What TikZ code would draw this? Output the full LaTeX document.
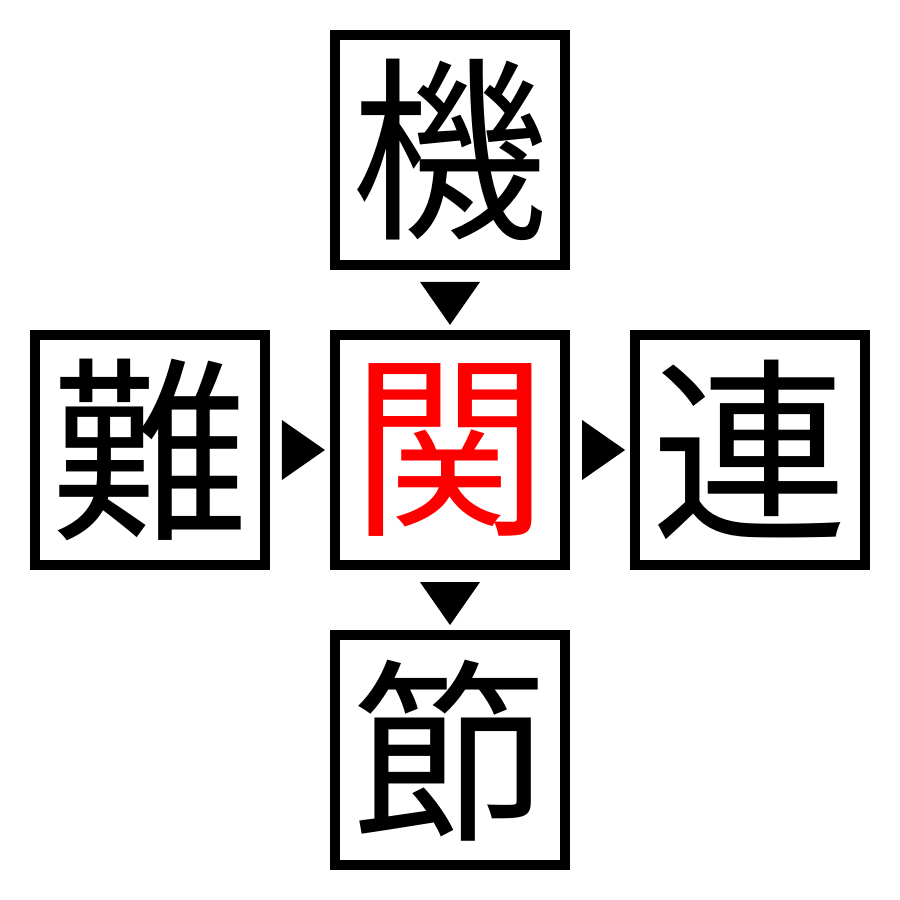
\documentclass[tikz,border=0pt]{standalone}
\usepackage{fontspec}
\newfontfamily\cjk{Noto Sans CJK JP}
\usetikzlibrary{positioning,calc}

\begin{document}
\begin{tikzpicture}[x=0.01cm,y=-0.01cm,
  cell/.style={draw,line width=0.1cm,minimum size=2.3cm,inner sep=0pt,
    font=\cjk\fontsize{56}{56}\selectfont},
  node distance=0.6cm]
\def\cLine{black}
\def\cKey{red}
\useasboundingbox (0,0) rectangle (900,900);
% the grid of cells
\node[cell] (C) at (450,450) {\textcolor{\cKey}{関}};
\node[cell,above=of C] (T) {機};
\node[cell,below=of C] (B) {節};
\node[cell,left=of C] (L) {難};
\node[cell,right=of C] (R) {連};
% pointers
\fill[\cLine] (T.south) +(-30,12) -- +(30,12) -- +(0,55) -- cycle;
\fill[\cLine] (C.south) +(-30,12) -- +(30,12) -- +(0,55) -- cycle;
\fill[\cLine] (L.east) +(12,-30) -- +(12,30) -- +(55,0) -- cycle;
\fill[\cLine] (C.east) +(12,-30) -- +(12,30) -- +(55,0) -- cycle;
\end{tikzpicture}
\end{document}
